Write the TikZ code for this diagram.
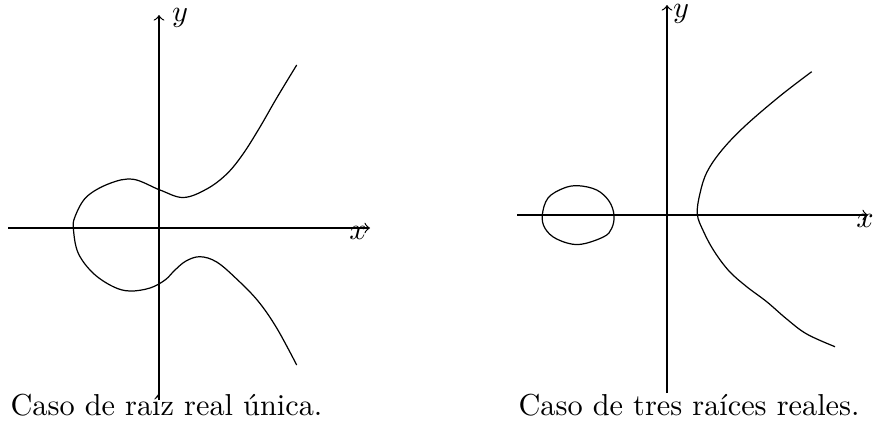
\documentclass[tikz,border=0pt]{standalone}
\begin{document}
\begin{tikzpicture}[x=0.33pt,y=-0.33pt,
  axis/.style={->},
  caption/.style={anchor=west,inner sep=0pt},
  lbl/.style={inner sep=0pt}]
\useasboundingbox (0,0) rectangle (875,425);
% left plot
\coordinate (lx0) at (8,228);
\coordinate (lx1) at (370,228);
\coordinate (ly0) at (159,400);
\coordinate (ly1) at (159,15);
\draw[axis] (lx0) -- (lx1);
\draw[axis] (ly0) -- (ly1);
\node[lbl] (lxl) at (358,233) {$x$};
\node[lbl] (lyl) at (180,18) {$y$};
\draw plot[smooth,tension=0.6] coordinates {(296.7,65) (276.7,98) (260,127) (243,154) (226.7,174) (206.7,189) (183.3,197.5) (160,190) (133.3,179.3) (110,183.3) (86.7,196.7) (75,216.7) (73.5,230) (78.3,253.3) (93.3,273.3) (113.3,286.7) (130,291) (150,288) (165,280) (175,270) (186,261) (200,256.7) (216.7,262) (236.7,279) (258,301) (276.7,328) (296.7,365)};
\node[caption] (lcap) at (10,405) {Caso de raíz real única.};
% right plot
\coordinate (rx0) at (517,215);
\coordinate (rx1) at (868,215);
\coordinate (ry0) at (667,393);
\coordinate (ry1) at (667,5);
\draw[axis] (rx0) -- (rx1);
\draw[axis] (ry0) -- (ry1);
\node[lbl] (rxl) at (865,221) {$x$};
\node[lbl] (ryl) at (681,14) {$y$};
\draw plot[smooth cycle,tension=0.6] coordinates {(542.3,215) (548,198) (563.3,188.3) (578.3,185.7) (596.7,190) (609,201) (614,215) (611.7,228.3) (603.3,237) (578.3,244.5) (556.7,239) (545,228.3)};
\draw plot[smooth,tension=0.6] coordinates {(811.7,71.7) (780,96) (745,126) (722,150) (707,172) (700,193.3) (697.3,214) (703.3,231) (714,251) (729,271) (746.7,286.7) (766.7,301.7) (786.7,319) (806.7,334) (835,346.7)};
\node[caption] (rcap) at (518,405) {Caso de tres raíces reales.};
\end{tikzpicture}
\end{document}
